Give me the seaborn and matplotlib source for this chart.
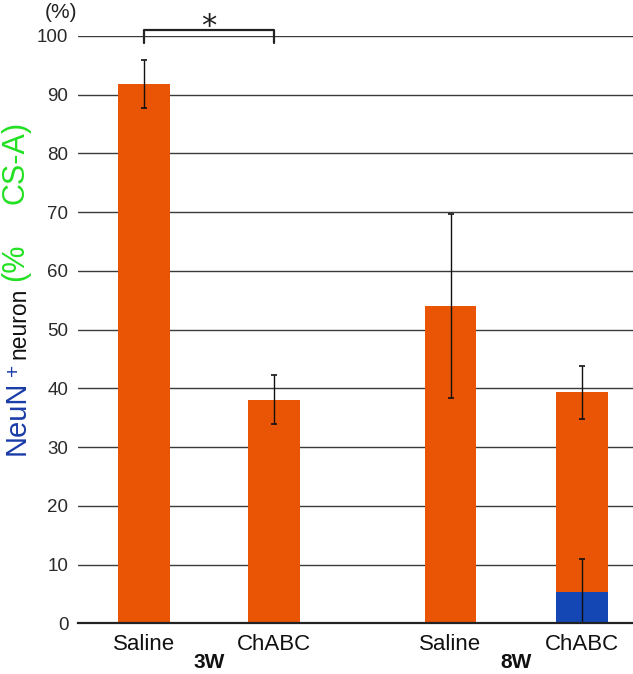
import matplotlib
matplotlib.use("Agg")
import matplotlib.pyplot as plt
import pandas as pd
import seaborn as sns

# ---- data ----
conditions = ["Saline", "ChABC", "Saline", "ChABC"]
groups = ["3W", "3W", "8W", "8W"]
cs_a_values = [91.8, 38.1, 54.0, 39.3]
cs_a_errors = [4.1, 4.2, 15.7, 4.5]
neun_only_condition = ["ChABC"]
neun_only_group = ["8W"]
neun_only_values = [5.4]
neun_only_errors = [5.5]
yticks = [0, 10, 20, 30, 40, 50, 60, 70, 80, 90, 100]

# ---- layout ----
positions = [0.0, 1.0, 2.36, 3.37]
ORANGE = "#E95504"
BLUE = "#1446B4"
LBLUE = "#1A3CA8"
GREEN = "#22E022"

sns.set_style("white")
plt.rcParams["font.family"] = ["Liberation Sans", "DejaVu Sans"]

df = pd.DataFrame({"pos": positions, "value": cs_a_values, "err": cs_a_errors,
                   "condition": conditions, "group": groups})
pos_lookup = {(c, g): p for c, g, p in zip(conditions, groups, positions)}
df2 = pd.DataFrame({"pos": [pos_lookup[(c, g)] for c, g in zip(neun_only_condition, neun_only_group)],
                    "value": neun_only_values, "err": neun_only_errors})

fig = plt.figure(figsize=(6.33, 6.74), dpi=100)
ax = fig.add_axes([78 / 633, 1 - 623.3 / 674, 555 / 633, (623.3 - 36) / 674])

sns.barplot(data=df, x="pos", y="value", native_scale=True, color=ORANGE,
            saturation=1, width=0.4, errorbar=None, ax=ax, zorder=3)
sns.barplot(data=df2, x="pos", y="value", native_scale=True, color=BLUE,
            saturation=1, width=0.4, errorbar=None, ax=ax, zorder=4)
for p in ax.patches:
    p.set_edgecolor("none")

ax.errorbar(df["pos"], df["value"], yerr=df["err"], fmt="none", ecolor="#111111",
            elinewidth=1, capsize=2.5, capthick=1.2, zorder=5)
ax.errorbar(df2["pos"], df2["value"], yerr=df2["err"], fmt="none", ecolor="#111111",
            elinewidth=1, capsize=2.5, capthick=1.2, zorder=5)

ax.set_ylim(0, 100)
ax.set_xlim(-0.508, 3.765)
ax.set_yticks(yticks)
ax.set_yticklabels([str(t) for t in yticks], fontsize=13.5, color="#2a2a2a")
ax.yaxis.grid(True, color="#3a3a3a", linewidth=1, zorder=0)
ax.set_axisbelow(True)
ax.tick_params(axis="both", length=0)
ax.tick_params(axis="y", pad=7)
ax.set_xticks(positions)
ax.set_xticklabels(conditions, fontsize=16, color="#111111")
ax.tick_params(axis="x", pad=8)
ax.set_xlabel("")
ax.set_ylabel("")
for s in ["left", "right", "top"]:
    ax.spines[s].set_visible(False)
ax.spines["bottom"].set_color("#222222")
ax.spines["bottom"].set_linewidth(1.6)
ax.spines["bottom"].set_zorder(6)

# group labels
for g in ["3W", "8W"]:
    xs = [p for p, gg in zip(positions, groups) if gg == g]
    ax.text(sum(xs) / len(xs), -6.75, g, ha="center", va="center",
            fontsize=15, fontweight="bold", color="#111111")

# significance bracket
x0, x1 = positions[0], positions[1]
ax.plot([x0, x0, x1, x1], [98.8, 101.1, 101.1, 98.8], color="#222222",
        linewidth=1.6, clip_on=False, zorder=6)
ax.text((x0 + x1) / 2, 100.1, "*", ha="center", va="baseline", fontsize=22,
        color="#222222", family="DejaVu Sans")

# (%) label
fig.text(61.5 / 633, 1 - 12 / 674, "(%)", ha="center", va="center", fontsize=15,
         color="#222222")

# y label pieces (rotated)
def ylab(xpx, ypx, s, color, size, weight="normal"):
    fig.text(xpx / 633, 1 - ypx / 674, s, rotation=90, rotation_mode="anchor",
             ha="left", va="baseline", color=color, fontsize=size, fontweight=weight)

ylab(25, 455, "NeuN", LBLUE, 21)
ylab(19, 376, "+", LBLUE, 15)
ylab(25.5, 359, "neuron", "#111111", 16.5)
ylab(23.5, 281, "(%", GREEN, 22)
ylab(23.5, 204, "CS-A)", GREEN, 22)

fig.savefig("out.png", dpi=100)
